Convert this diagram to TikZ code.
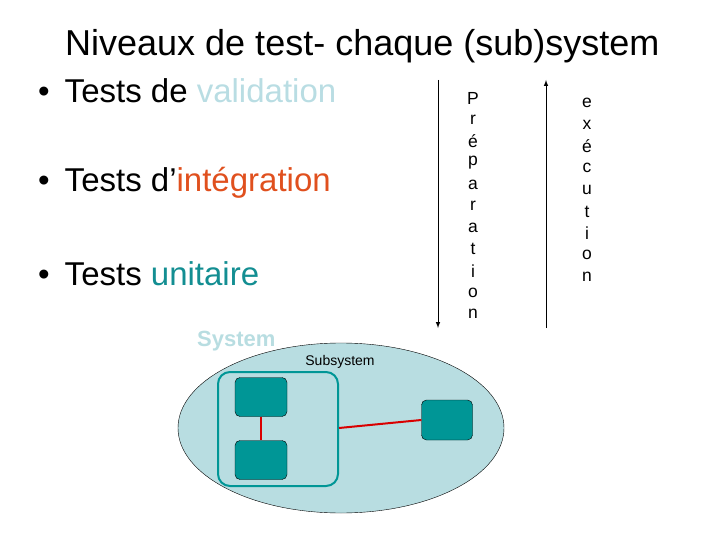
\documentclass[tikz,border=0pt]{standalone}
\usepackage{fontspec}
\setmainfont{Liberation Sans}
\definecolor{blkc}{HTML}{009696}
\definecolor{ellc}{HTML}{B8DDE1}
\begin{document}
\begin{tikzpicture}[x=1pt,y=-1pt,
  big/.style={anchor=west,font=\fontsize{33}{38}\selectfont,inner sep=0},
  blk/.style={draw=black,fill=blkc,rounded corners=5pt},
  vl/.style={font=\fontsize{17.5}{18}\selectfont,inner sep=0}]
\useasboundingbox (0,0) rectangle (720,540);
\node[big,font=\fontsize{36}{40}\selectfont] (title) at (65,46) {Niveaux de test- chaque (sub)system};
\node[big] (b1) at (38,91) {\textbullet\hspace{15pt}Tests de \textcolor[HTML]{B9DDE3}{validation}};
\node[big] (b2) at (38,183) {\textbullet\hspace{15pt}Tests d’\textcolor[HTML]{E0501E}{intégration}};
\node[big] (b3) at (38,274) {\textbullet\hspace{15pt}Tests \textcolor[HTML]{138E92}{unitaire}};
\node[anchor=west,inner sep=0,font=\bfseries\fontsize{22}{24}\selectfont,text=ellc] (sys) at (197,341) {System};
\draw[fill=ellc] (341,428) ellipse [x radius=163,y radius=85];
\node[font=\fontsize{14}{14}\selectfont,inner sep=0] (sub) at (340,362) {Subsystem};
\draw[draw=blkc,line width=2pt,rounded corners=12pt] (218,372) rectangle (338,486);
\node[blk,minimum width=52pt,minimum height=39pt] (a) at (261,397) {};
\node[blk,minimum width=52pt,minimum height=39pt] (b) at (261,460) {};
\node[blk,minimum width=51pt,minimum height=40pt] (c) at (447,420) {};
\coordinate (sr) at (339,428);
\draw[red!85!black,line width=1.5pt] (a.south) -- (b.north);
\draw[red!85!black,line width=2pt] (sr) -- (c.west);
\coordinate (l1) at (438,80); \coordinate (l2) at (438,328);
\coordinate (r1) at (546,328); \coordinate (r2) at (546,80);
\draw[-latex,line width=1pt] (l1) -- (l2);
\draw[-latex,line width=1pt] (r1) -- (r2);
\foreach \c [count=\i] in {P,r,é,p,a,r,a,t,i,o,n}
  \node[vl] (p\i) at (473,{98+(\i-1)*21.6}) {\c};
\foreach \c [count=\i] in {e,x,é,c,u,t,i,o,n}
  \node[vl] (e\i) at (587,{103+(\i-1)*21.75}) {\c};
\end{tikzpicture}
\end{document}
